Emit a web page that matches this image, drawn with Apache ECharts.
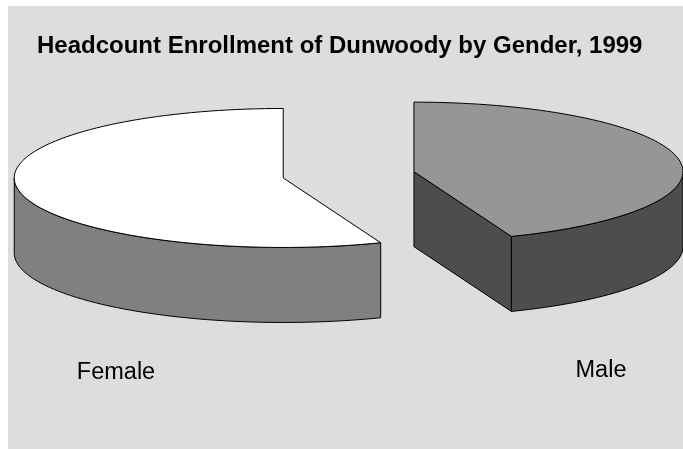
<!DOCTYPE html>
<html>
<head>
<meta charset="utf-8">
<style>
html, body { margin: 0; padding: 0; background: #fff; }
#chart { width: 683px; height: 449px; }
</style>
</head>
<body>
<div id="chart"></div>
<script src="https://cdn.jsdelivr.net/npm/echarts@6/dist/echarts.min.js"></script>
<script>
// data (share of headcount, %)
var categories = ['Male', 'Female'];
var values = [44.1, 55.9];
var topColors = ['#969696', '#ffffff'];
var sideColors = ['#4d4d4d', '#808080'];

// 3d pie layout
var PIE = { cx: 348.6, cy: 174.8, rx: 269, ry: 69.5, depth: 75, explode: 66.5 };
var FONT = 'Liberation Sans, Arial, sans-serif';

var total = 0;
values.forEach(function (v) { total += v; });
var starts = [];
var acc = 0;
for (var i = 0; i < values.length; i++) {
  starts.push(acc / total * 360);
  acc += values[i];
}

function renderItem(params, api) {
  var i = params.dataIndex;
  var a0 = starts[i];
  var a1 = a0 + api.value(0) / total * 360;
  var mid = (a0 + a1) / 2 * Math.PI / 180;
  var cx = PIE.cx + Math.sin(mid) * PIE.explode;
  var cy = PIE.cy - Math.cos(mid) * PIE.explode * PIE.ry / PIE.rx;
  var D = PIE.depth;

  function pt(deg, dz) {
    var r = deg * Math.PI / 180;
    return [cx + PIE.rx * Math.sin(r), cy - PIE.ry * Math.cos(r) + (dz || 0)];
  }
  function arc(d0, d1, dz) {
    var n = Math.max(2, Math.ceil((d1 - d0) / 2));
    var pts = [];
    for (var k = 0; k <= n; k++) pts.push(pt(d0 + (d1 - d0) * k / n, dz));
    return pts;
  }
  function poly(points, fill) {
    return {
      type: 'polygon',
      shape: { points: points },
      style: { fill: fill, stroke: '#000', lineWidth: 1, lineJoin: 'round' }
    };
  }

  var children = [];
  // cut faces that look toward the viewer
  [[a0, -1], [a1, 1]].forEach(function (f) {
    if (Math.sin(f[0] * Math.PI / 180) * f[1] > 1e-6) {
      var o = pt(f[0]);
      children.push(poly([[cx, cy], o, [o[0], o[1] + D], [cx, cy + D]], sideColors[i]));
    }
  });
  // front wall
  var s0 = Math.max(a0, 90), s1 = Math.min(a1, 270);
  if (s1 > s0) {
    children.push(poly(arc(s0, s1, 0).concat(arc(s0, s1, D).reverse()), sideColors[i]));
  }
  // top
  children.push(poly([[cx, cy]].concat(arc(a0, a1, 0)), topColors[i]));
  return { type: 'group', children: children };
}

var myChart = echarts.init(document.getElementById('chart'));
myChart.setOption({
  animation: false,
  backgroundColor: '#ffffff',
  graphic: [
    { type: 'rect', z: -10, shape: { x: 8, y: 6, width: 675, height: 443 }, style: { fill: '#dddddd' } },
    { type: 'text', left: 37, top: 34, style: { text: 'Headcount Enrollment of Dunwoody by Gender, 1999', font: 'bold 24px ' + FONT, fill: '#000' } },
    { type: 'text', x: 116, y: 373, style: { text: categories[1], font: '23.5px ' + FONT, fill: '#000', align: 'center', verticalAlign: 'middle' } },
    { type: 'text', x: 601, y: 371, style: { text: categories[0], font: '23.5px ' + FONT, fill: '#000', align: 'center', verticalAlign: 'middle' } }
  ],
  series: [{
    type: 'custom',
    coordinateSystem: 'none',
    renderItem: renderItem,
    data: values.map(function (v, i) { return { name: categories[i], value: v }; })
  }]
});
</script>
</body>
</html>
